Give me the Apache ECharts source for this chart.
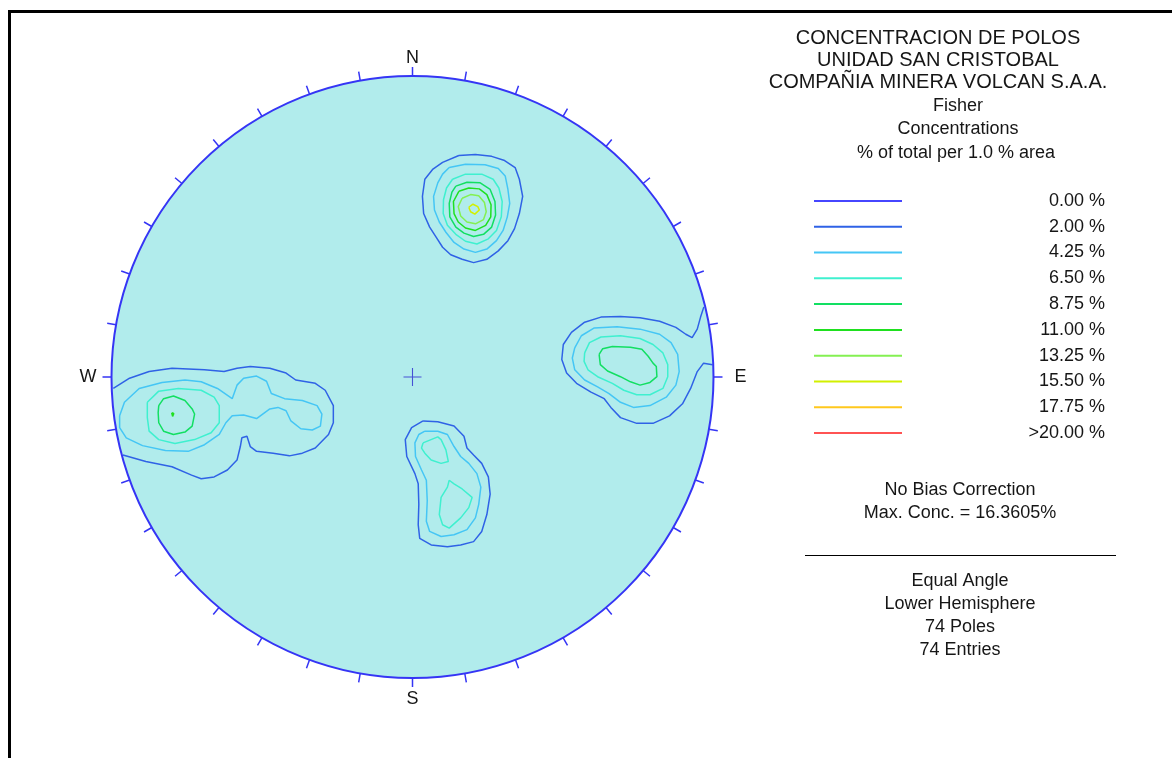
<!DOCTYPE html>
<html>
<head>
<meta charset="utf-8">
<script src="https://cdn.jsdelivr.net/npm/echarts/dist/echarts.min.js"></script>
<style>
html,body{margin:0;padding:0;background:#ffffff;}
#chart{width:1172px;height:758px;}
</style>
</head>
<body>
<div id="chart"></div>
<script>
// ---------- DATA (net coordinates: x = East, y = North, radius = 1) ----------
const levelNames = ['0.00 %','2.00 %','4.25 %','6.50 %','8.75 %','11.00 %','13.25 %','15.50 %','17.75 %','>20.00 %'];
const directionLabels = ['N','E','S','W'];
const tickAngles = [0, 90, 180, 270];
const titleLines = ['CONCENTRACION DE POLOS','UNIDAD SAN CRISTOBAL','COMPAÑIA MINERA VOLCAN S.A.A.'];
const infoLines = ['Fisher','Concentrations','% of total per 1.0 % area'];
const maxConc = '16.3605';
const nPoles = 74;
const nEntries = 74;
const centerMark = [[0, 0]];

// North cluster
const N200 = [[0.154,0.736],[0.209,0.739],[0.263,0.733],[0.306,0.719],[0.341,0.696],[0.355,0.657],[0.366,0.600],[0.355,0.543],[0.339,0.493],[0.317,0.453],[0.285,0.419],[0.247,0.391],[0.203,0.380],[0.165,0.391],[0.127,0.406],[0.100,0.431],[0.079,0.464],[0.057,0.498],[0.037,0.543],[0.033,0.600],[0.041,0.657],[0.068,0.691],[0.100,0.713]];
const N425 = [[0.122,0.696],[0.176,0.707],[0.241,0.705],[0.285,0.693],[0.308,0.668],[0.317,0.623],[0.323,0.577],[0.315,0.532],[0.301,0.487],[0.279,0.453],[0.247,0.425],[0.209,0.414],[0.171,0.425],[0.138,0.447],[0.111,0.481],[0.089,0.515],[0.073,0.555],[0.070,0.600],[0.084,0.645],[0.100,0.674]];
const N650 = [[0.133,0.657],[0.176,0.674],[0.230,0.674],[0.268,0.657],[0.287,0.628],[0.298,0.583],[0.295,0.532],[0.279,0.487],[0.252,0.459],[0.214,0.442],[0.176,0.451],[0.144,0.474],[0.116,0.504],[0.102,0.543],[0.103,0.589],[0.113,0.628]];
const N875 = [[0.144,0.634],[0.181,0.647],[0.225,0.645],[0.258,0.623],[0.274,0.583],[0.276,0.538],[0.263,0.498],[0.236,0.474],[0.203,0.467],[0.171,0.478],[0.144,0.498],[0.124,0.532],[0.122,0.577],[0.131,0.614]];
const N1100 = [[0.154,0.617],[0.187,0.628],[0.222,0.625],[0.247,0.606],[0.261,0.572],[0.260,0.532],[0.243,0.504],[0.209,0.487],[0.176,0.495],[0.152,0.515],[0.138,0.543],[0.136,0.583]];
const N1325 = [[0.165,0.594],[0.193,0.606],[0.220,0.602],[0.239,0.580],[0.245,0.549],[0.236,0.523],[0.209,0.509],[0.181,0.515],[0.160,0.535],[0.152,0.566]];
const N1550 = [[0.187,0.564],[0.201,0.574],[0.217,0.566],[0.222,0.555],[0.207,0.541],[0.193,0.549]];

// East cluster (2.00 % contour is cut by the primitive circle)
const E200 = [[0.997,0.041],[0.967,0.046],[0.946,0.018],[0.924,-0.038],[0.897,-0.089],[0.854,-0.129],[0.799,-0.154],[0.745,-0.154],[0.691,-0.135],[0.659,-0.101],[0.637,-0.072],[0.593,-0.050],[0.545,-0.021],[0.512,0.013],[0.496,0.058],[0.501,0.108],[0.528,0.148],[0.572,0.182],[0.626,0.199],[0.691,0.201],[0.756,0.197],[0.821,0.185],[0.875,0.165],[0.908,0.142],[0.929,0.131],[0.946,0.159],[0.957,0.199],[0.968,0.233]];
const E425 = [[0.539,0.097],[0.561,0.137],[0.604,0.163],[0.680,0.167],[0.756,0.159],[0.821,0.142],[0.859,0.114],[0.881,0.075],[0.886,0.018],[0.875,-0.027],[0.843,-0.067],[0.789,-0.095],[0.734,-0.101],[0.691,-0.084],[0.653,-0.055],[0.615,-0.033],[0.572,-0.010],[0.539,0.024],[0.531,0.063]];
const E650 = [[0.572,0.080],[0.588,0.114],[0.626,0.133],[0.691,0.137],[0.756,0.128],[0.799,0.108],[0.832,0.080],[0.848,0.041],[0.848,0.001],[0.832,-0.038],[0.789,-0.059],[0.745,-0.059],[0.702,-0.044],[0.664,-0.021],[0.615,0.001],[0.583,0.024],[0.570,0.052]];
const E875 = [[0.620,0.075],[0.632,0.094],[0.664,0.101],[0.724,0.099],[0.762,0.092],[0.783,0.069],[0.799,0.046],[0.810,0.035],[0.812,0.001],[0.789,-0.018],[0.756,-0.027],[0.724,-0.016],[0.691,0.001],[0.648,0.020],[0.624,0.041]];

// West cluster (2.00 % contour is cut by the primitive circle)
const W200 = [[-0.962,-0.259],[-0.886,-0.281],[-0.799,-0.298],[-0.734,-0.326],[-0.702,-0.338],[-0.659,-0.332],[-0.615,-0.309],[-0.583,-0.276],[-0.572,-0.231],[-0.567,-0.202],[-0.550,-0.197],[-0.539,-0.231],[-0.518,-0.247],[-0.463,-0.253],[-0.409,-0.262],[-0.366,-0.253],[-0.323,-0.236],[-0.279,-0.191],[-0.263,-0.152],[-0.263,-0.095],[-0.290,-0.044],[-0.323,-0.021],[-0.388,-0.010],[-0.420,0.013],[-0.474,0.029],[-0.539,0.035],[-0.583,0.029],[-0.626,0.018],[-0.691,0.024],[-0.799,0.029],[-0.875,0.018],[-0.940,-0.004],[-0.994,-0.038]];
const W425 = [[-0.973,-0.129],[-0.957,-0.084],[-0.908,-0.038],[-0.832,-0.018],[-0.756,-0.010],[-0.702,-0.016],[-0.648,-0.038],[-0.599,-0.072],[-0.583,-0.027],[-0.561,-0.004],[-0.518,0.003],[-0.485,-0.014],[-0.469,-0.055],[-0.425,-0.072],[-0.366,-0.078],[-0.317,-0.095],[-0.301,-0.123],[-0.306,-0.163],[-0.333,-0.176],[-0.371,-0.172],[-0.404,-0.146],[-0.420,-0.112],[-0.447,-0.101],[-0.474,-0.106],[-0.518,-0.138],[-0.561,-0.126],[-0.599,-0.129],[-0.620,-0.152],[-0.642,-0.191],[-0.691,-0.225],[-0.745,-0.247],[-0.821,-0.244],[-0.897,-0.228],[-0.951,-0.202],[-0.973,-0.168]];
const W650 = [[-0.881,-0.084],[-0.843,-0.047],[-0.778,-0.038],[-0.702,-0.044],[-0.659,-0.067],[-0.642,-0.095],[-0.642,-0.152],[-0.669,-0.185],[-0.724,-0.208],[-0.789,-0.221],[-0.843,-0.208],[-0.875,-0.180],[-0.881,-0.135]];
const W875 = [[-0.843,-0.095],[-0.827,-0.072],[-0.794,-0.063],[-0.756,-0.078],[-0.732,-0.106],[-0.724,-0.123],[-0.732,-0.163],[-0.756,-0.183],[-0.794,-0.191],[-0.827,-0.180],[-0.843,-0.152],[-0.845,-0.118]];
const W1100 = [[-0.800,-0.119],[-0.797,-0.113],[-0.793,-0.121],[-0.797,-0.131],[-0.800,-0.126]];

// South cluster
const S200 = [[0.035,-0.146],[0.084,-0.149],[0.138,-0.163],[0.171,-0.197],[0.181,-0.236],[0.203,-0.259],[0.230,-0.287],[0.252,-0.332],[0.258,-0.389],[0.247,-0.457],[0.230,-0.513],[0.203,-0.547],[0.160,-0.558],[0.116,-0.564],[0.062,-0.558],[0.024,-0.536],[0.019,-0.491],[0.021,-0.423],[0.019,-0.355],[0.008,-0.321],[-0.019,-0.264],[-0.024,-0.208],[-0.003,-0.168]];
const S425 = [[0.041,-0.180],[0.084,-0.180],[0.116,-0.191],[0.138,-0.231],[0.160,-0.264],[0.187,-0.287],[0.214,-0.321],[0.227,-0.366],[0.220,-0.423],[0.209,-0.468],[0.181,-0.507],[0.138,-0.524],[0.095,-0.530],[0.057,-0.513],[0.046,-0.479],[0.049,-0.411],[0.046,-0.343],[0.030,-0.309],[0.010,-0.264],[0.008,-0.219],[0.021,-0.191]];
const S650a = [[0.035,-0.219],[0.084,-0.199],[0.095,-0.208],[0.111,-0.242],[0.119,-0.281],[0.095,-0.287],[0.062,-0.276],[0.041,-0.253],[0.030,-0.236]];
const S650b = [[0.122,-0.343],[0.138,-0.355],[0.165,-0.372],[0.198,-0.400],[0.187,-0.434],[0.160,-0.468],[0.122,-0.502],[0.100,-0.491],[0.089,-0.457],[0.095,-0.400],[0.116,-0.366]];

// contour groups per level: [closed rings, open lines]
const closed200 = [N200, S200];
const open200 = [E200, W200];
const closed425 = [N425, E425, W425, S425];
const closed650 = [N650, E650, W650, S650a, S650b];
const closed875 = [N875, E875, W875];
const closed1100 = [N1100, W1100];
const closed1325 = [N1325];
const closed1550 = [N1550];

// ---------- STYLE ----------
const levelColors = ['#4646ff','#2f62e6','#45c6f5','#3ff0cf','#12df62','#1fe01f','#84f052','#d2f000','#ffc81e','#ff5353'];
const FONT_FAMILY = '"Liberation Sans", Arial, Helvetica, sans-serif';
const TEXT_COLOR = '#161616';
const NET_COLOR = '#3535f5';

function buildData(closed, open) {
  const out = [];
  (closed || []).forEach(function (ring) {
    ring.forEach(function (p) { out.push(p); });
    out.push(ring[0]);
    out.push(['-', '-']);
  });
  (open || []).forEach(function (line) {
    line.forEach(function (p) { out.push(p); });
    out.push(['-', '-']);
  });
  return out;
}

const levelData = [
  buildData([], []),
  buildData(closed200, open200),
  buildData(closed425, []),
  buildData(closed650, []),
  buildData(closed875, []),
  buildData(closed1100, []),
  buildData(closed1325, []),
  buildData(closed1550, []),
  buildData([], []),
  buildData([], [])
];

const contourSeries = levelNames.map(function (name, i) {
  return {
    name: name,
    type: 'line',
    xAxisIndex: 0,
    yAxisIndex: 0,
    data: levelData[i],
    symbol: 'none',
    showSymbol: false,
    connectNulls: false,
    silent: true,
    z: 3,
    itemStyle: { color: levelColors[i] },
    lineStyle: { color: levelColors[i], width: 1.5 }
  };
});

const dirRich = {
  n: { fontSize: 18, fontFamily: FONT_FAMILY, color: TEXT_COLOR, padding: [0, 0, 6, 0] },
  e: { fontSize: 18, fontFamily: FONT_FAMILY, color: TEXT_COLOR, padding: [0, 0, 0, 18] },
  s: { fontSize: 18, fontFamily: FONT_FAMILY, color: TEXT_COLOR, padding: [9, 0, 0, 0] },
  w: { fontSize: 18, fontFamily: FONT_FAMILY, color: TEXT_COLOR, padding: [0, 12, 0, 0] }
};
const dirKeys = ['n', 'e', 's', 'w'];

function textEl(str, x, y, size) {
  return {
    type: 'text', x: x, y: y, silent: true,
    style: { text: str, font: size + 'px ' + FONT_FAMILY, fill: TEXT_COLOR, align: 'center', verticalAlign: 'middle', textAlign: 'center', textVerticalAlign: 'middle' }
  };
}

const graphics = [
  { type: 'rect', silent: true, shape: { x: 9.5, y: 11.5, width: 1200, height: 800 }, style: { fill: 'none', stroke: '#000', lineWidth: 3 } },
  textEl(titleLines[0], 938, 38, 20),
  textEl(titleLines[1], 938, 60, 20),
  textEl(titleLines[2], 938, 82, 20),
  textEl(infoLines[0], 958, 106, 18),
  textEl(infoLines[1], 958, 129, 18),
  textEl(infoLines[2], 956, 153, 18),
  textEl('No Bias Correction', 960, 490, 18),
  textEl('Max. Conc. = ' + maxConc + '%', 960, 513, 18),
  { type: 'line', silent: true, shape: { x1: 805, y1: 555.5, x2: 1116, y2: 555.5 }, style: { stroke: '#000', lineWidth: 1 } },
  textEl('Equal Angle', 960, 581, 18),
  textEl('Lower Hemisphere', 960, 604, 18),
  textEl(nPoles + ' Poles', 960, 627, 18),
  textEl(nEntries + ' Entries', 960, 650, 18)
];

const option = {
  backgroundColor: '#ffffff',
  animation: false,
  polar: { center: [412.5, 377], radius: 301 },
  angleAxis: {
    type: 'value', min: 0, max: 360, interval: 10, startAngle: 90, clockwise: true, z: 4,
    axisLine: { show: true, lineStyle: { color: NET_COLOR, width: 2 } },
    axisTick: { show: true, inside: false, length: 9, lineStyle: { color: NET_COLOR, width: 1.5 } },
    splitLine: { show: false },
    axisLabel: {
      show: true, margin: 3, fontSize: 18, fontFamily: FONT_FAMILY, color: TEXT_COLOR,
      formatter: function (v) {
        const k = tickAngles.indexOf(v);
        if (k < 0) return '';
        return '{' + dirKeys[k] + '|' + directionLabels[k] + '}';
      },
      rich: dirRich
    }
  },
  radiusAxis: {
    type: 'value', min: 0, max: 1, interval: 1, z: 0,
    axisLine: { show: false }, axisTick: { show: false }, axisLabel: { show: false },
    splitLine: { show: false },
    splitArea: { show: true, areaStyle: { color: ['#b1ecec'], opacity: 1 } }
  },
  grid: { left: 111.5, top: 76, width: 602, height: 602, containLabel: false, show: false },
  xAxis: { type: 'value', min: -1, max: 1, show: false },
  yAxis: { type: 'value', min: -1, max: 1, show: false },
  legend: {
    data: levelNames,
    orient: 'vertical',
    left: 814,
    top: 191.9,
    padding: 0,
    itemWidth: 88,
    itemHeight: 2,
    itemGap: 7.8,
    icon: 'path://M0,0H88V2H0Z',
    selectedMode: false,
    formatter: function (name) { return '{v|' + name + '}'; },
    textStyle: {
      color: TEXT_COLOR, fontSize: 18, fontFamily: FONT_FAMILY,
      rich: { v: { width: 198, align: 'right', fontSize: 18, lineHeight: 20, fontFamily: FONT_FAMILY, color: TEXT_COLOR } }
    }
  },
  graphic: graphics,
  series: contourSeries.concat([{
    name: 'centre',
    type: 'scatter',
    xAxisIndex: 0,
    yAxisIndex: 0,
    data: centerMark,
    symbol: 'path://M4.7,0H5.3V4.7H10V5.3H5.3V10H4.7V5.3H0V4.7H4.7Z',
    symbolSize: 18,
    silent: true,
    z: 5,
    itemStyle: { color: '#2b2bd0' }
  }])
};

const chart = echarts.init(document.getElementById('chart'), null, { renderer: 'canvas' });
chart.setOption(option);
</script>
</body>
</html>
